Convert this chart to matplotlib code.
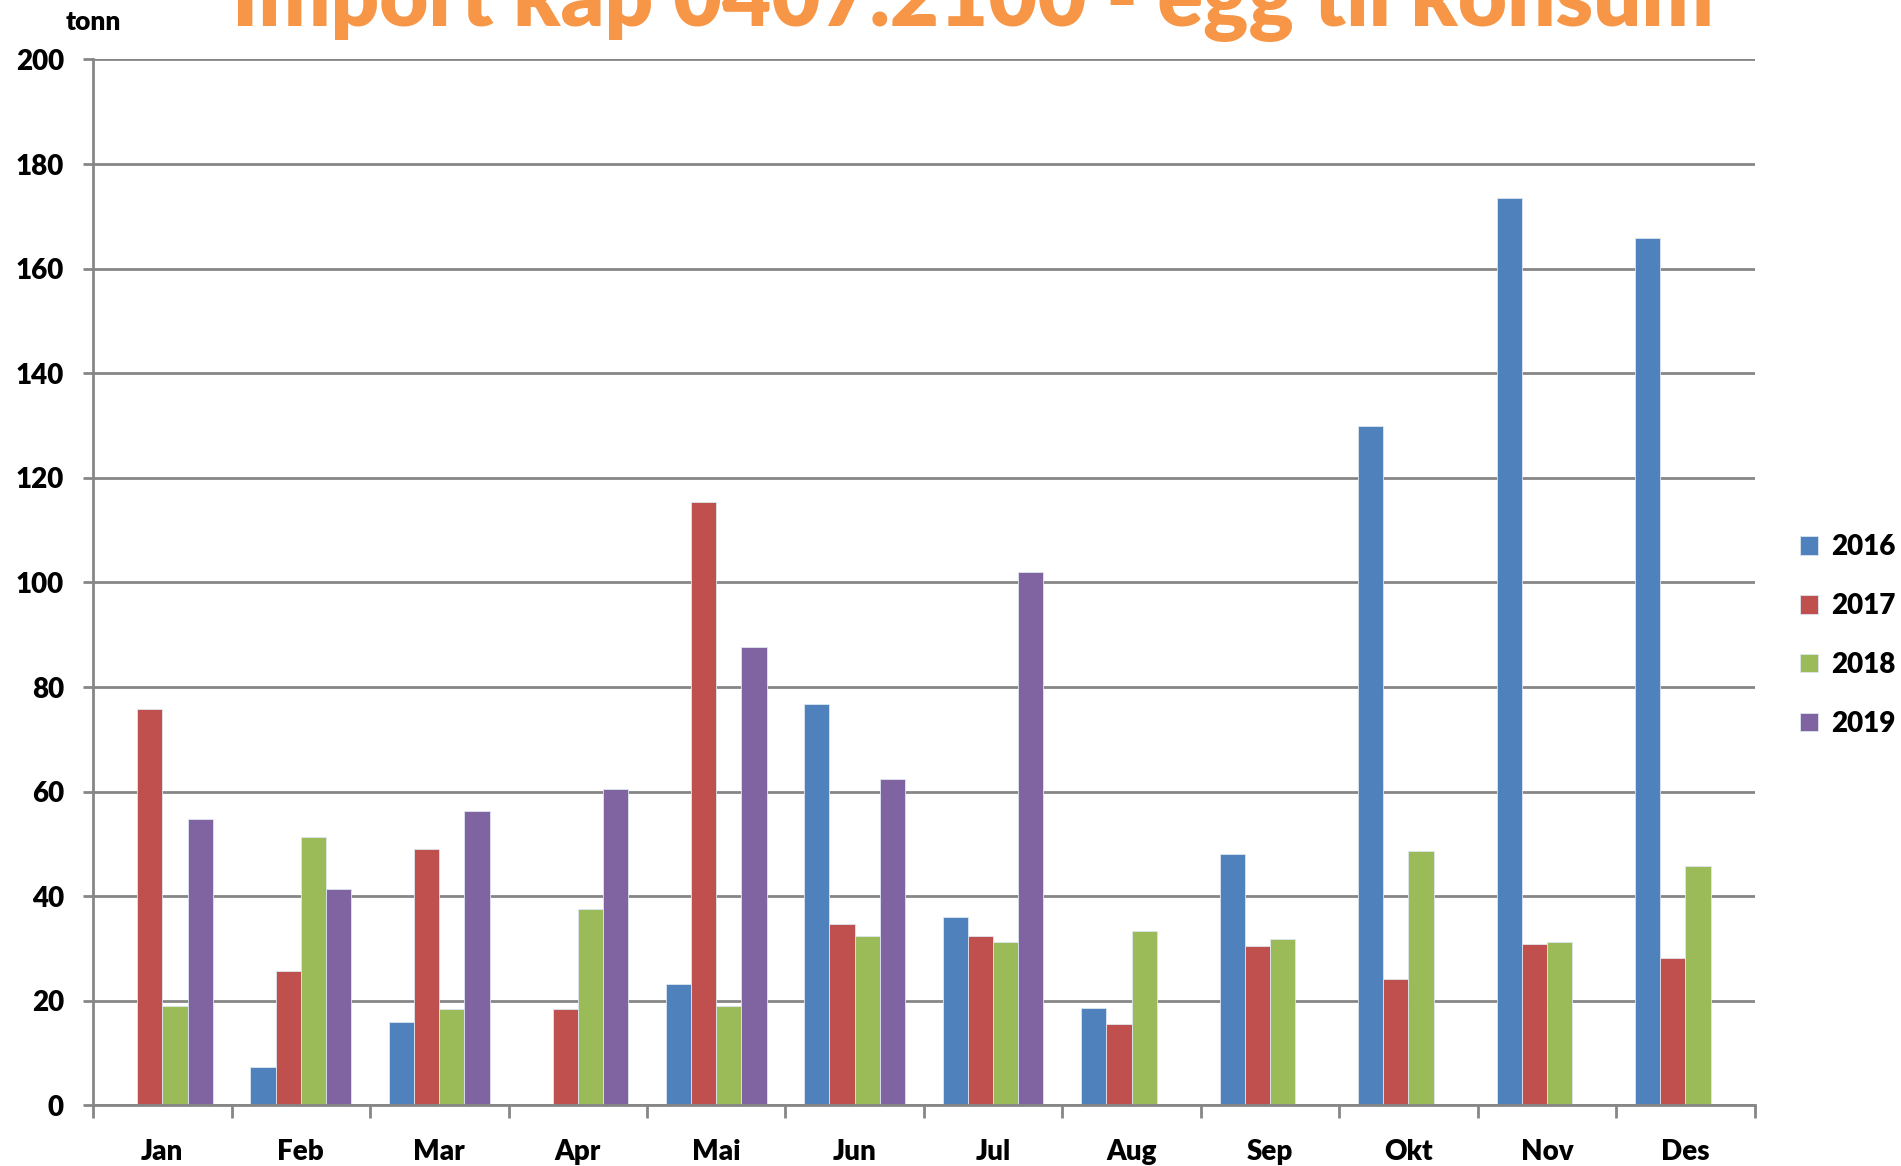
import numpy as np
import matplotlib.pyplot as plt

plt.rcParams['font.family'] = ['Lato', 'DejaVu Sans']
plt.rcParams['font.weight'] = 'heavy'

months = ['Jan', 'Feb', 'Mar', 'Apr', 'Mai', 'Jun', 'Jul', 'Aug', 'Sep', 'Okt', 'Nov', 'Des']
years = ['2016', '2017', '2018', '2019']
v2016 = [0, 7.4, 16, 0, 23.2, 76.7, 36, 18.6, 48, 130, 173.5, 165.8]
v2017 = [75.8, 25.6, 49, 18.5, 115.3, 34.7, 32.3, 15.5, 30.4, 24.1, 30.9, 28.1]
v2018 = [19, 51.4, 18.5, 37.6, 19, 32.3, 31.3, 33.3, 31.8, 48.6, 31.3, 45.7]
v2019 = [54.8, 41.4, 56.2, 60.5, 87.7, 62.4, 102, 0, 0, 0, 0, 0]
colors = ['#4F81BD', '#C0504D', '#9BBB59', '#8064A2']

fig = plt.figure(figsize=(19.01, 11.66), dpi=100)
ax = fig.add_axes([0.049, 0.052, 0.874, 0.897])

x = np.arange(len(months))
w = 1 / 5.5
for i, vals in enumerate([v2016, v2017, v2018, v2019]):
    ax.bar(x + (i - 1.5) * w, vals, w, color=colors[i], label=years[i],
           edgecolor='#dde6f0', linewidth=0.6, zorder=3)

ax.set_xlim(-0.5, 11.5)
ax.set_ylim(0, 200)
ax.set_yticks(range(0, 201, 20))
ax.set_xticks(x)
ax.set_xticklabels(months)
ax.set_xticks(np.arange(-0.5, 12, 1), minor=True)
ax.tick_params(axis='x', which='major', length=0, pad=24, labelsize=20)
ax.tick_params(axis='x', which='minor', length=9, width=2, color='#868686')
ax.tick_params(axis='y', length=7, width=2, color='#868686', labelsize=20, pad=14)
ax.grid(axis='y', color='#868686', linewidth=2, zorder=0)
for s in ['top', 'right']:
    ax.spines[s].set_visible(False)
for s in ['left', 'bottom']:
    ax.spines[s].set_color('#868686')
    ax.spines[s].set_linewidth(2)
    ax.spines[s].set_zorder(4)

fig.text(0.049, 0.981, 'tonn', fontsize=19, fontweight='heavy', ha='center', va='center')
fig.text(0.512, 0.978, 'Import kap 0407.2100 - egg til konsum', fontsize=61,
         fontweight='heavy', color='#F79646', ha='center', va='baseline')

fig.legend(loc='center left', bbox_to_anchor=(0.947, 0.455), frameon=False,
           fontsize=20, handlelength=0.65, handleheight=0.65, handletextpad=0.45,
           labelspacing=1.18, borderpad=0, borderaxespad=0)

fig.savefig('out.png', dpi=100)
